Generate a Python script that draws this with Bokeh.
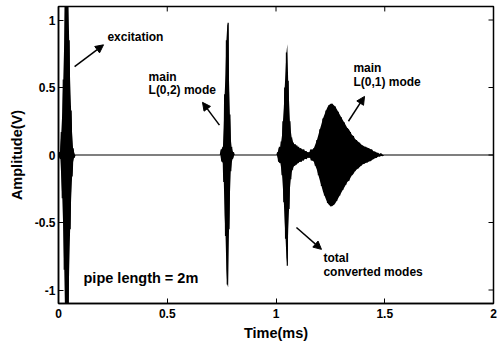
import numpy as np
from bokeh.plotting import figure
from bokeh.models import (Label, Arrow, NormalHead, Range1d,
                          FixedTicker, NumeralTickFormatter)
from bokeh.embed import file_html
from bokeh.resources import INLINE

# ---------------- data ----------------
# Each wave packet: start time (ms), sample step (ms), signed peak values (V)
exc_t0, exc_dt = 0.004, 0.0045
exc_amp = [0.02, -0.03, 0.17, -0.32, 0.56, -0.85, 1.25, -1.25, 1.25, -1.25,
           0.85, -0.55, 0.33, -0.16, 0.05, -0.02]

l02_t0, l02_dt = 0.748, 0.004
l02_amp = [0.04, -0.05, 0.06, -0.20, 0.45, -0.60, 0.85, -0.96, 0.98, -0.55,
           0.30, -0.12, 0.06, -0.03, 0.02]

conv_t0, conv_dt = 1.008, 0.004
conv_amp = [0.02, -0.05, 0.06, -0.06, 0.10, -0.15, 0.25, -0.35, 0.50, -0.62,
            0.76, -0.82, 0.55, -0.40, 0.25, -0.18, 0.13, -0.11, 0.09, -0.08,
            0.08, -0.07, 0.07, -0.06, 0.06, -0.05, 0.05, -0.05, 0.04, -0.04,
            0.04, -0.03, 0.03, -0.03, 0.02, -0.02, 0.02, -0.02]

l01_t0, l01_dt = 1.160, 0.007
l01_amp = [0.04, -0.04, 0.05, -0.08, 0.11, -0.15, 0.19, -0.23, 0.27, -0.30,
           0.33, -0.355, 0.37, -0.38, 0.38, -0.37, 0.36, -0.34, 0.32, -0.30,
           0.28, -0.26, 0.24, -0.22, 0.20, -0.19, 0.17, -0.15, 0.14, -0.12,
           0.11, -0.10, 0.09, -0.08, 0.07, -0.065, 0.06, -0.055, 0.05, -0.045,
           0.04, -0.03, 0.025, -0.02, 0.015, -0.01, 0.01, -0.005]

time_start, time_end = 0.0, 2.0

x_ticks = [0, 0.5, 1, 1.5, 2]
y_ticks = [-1, -0.5, 0, 0.5, 1]


def packet(t0, dt, amps):
    t = t0 + dt * np.arange(len(amps))
    return list(t), list(amps)


t_all, v_all = [time_start], [0.0]
for t0, dt, amps in [(exc_t0, exc_dt, exc_amp), (l02_t0, l02_dt, l02_amp),
                     (conv_t0, conv_dt, conv_amp), (l01_t0, l01_dt, l01_amp)]:
    t, v = packet(t0, dt, amps)
    t_all += [t[0] - dt] + t + [t[-1] + dt]
    v_all += [0.0] + v + [0.0]
t_all.append(time_end)
v_all.append(0.0)
env = np.abs(np.array(v_all))

# ---------------- figure ----------------
FONT = "Liberation Sans"
X0, X1, Y0, Y1 = 0, 2, -1.1, 1.1
FW, FH = 435, 299
p = figure(width=497, height=343, x_range=Range1d(X0, X1), y_range=Range1d(Y0, Y1),
           output_backend="svg", toolbar_location=None,
           min_border_left=58, min_border_right=4, min_border_top=6,
           min_border_bottom=38)
p.grid.visible = False
p.outline_line_color = "black"
p.outline_line_width = 1.5
p.background_fill_color = "white"
p.border_fill_color = "white"

# dense oscillation appears as a filled band between the envelopes
p.varea(x=t_all, y1=-env, y2=env, fill_color="black")
p.line(t_all, v_all, line_color="black", line_width=1.2)


def style_axis(ax, ticks):
    ax.ticker = FixedTicker(ticks=ticks)
    ax.major_tick_in = 5
    ax.major_tick_out = 0
    ax.minor_tick_line_color = None
    ax.axis_line_color = "black"
    ax.axis_line_width = 1.5
    ax.major_tick_line_color = "black"
    ax.major_tick_line_width = 1
    ax.formatter = NumeralTickFormatter(format="0.[0]")
    ax.major_label_text_font = FONT
    ax.major_label_text_font_style = "bold"
    ax.major_label_text_font_size = "12px"
    ax.major_label_text_color = "black"
    ax.axis_label_text_font = FONT
    ax.axis_label_text_font_style = "bold"
    ax.axis_label_text_font_size = "14.5px"
    ax.axis_label_text_color = "black"


style_axis(p.xaxis[0], x_ticks)
style_axis(p.yaxis[0], y_ticks)
p.xaxis[0].axis_label = "Time(ms)"
p.xaxis[0].major_label_standoff = 5
p.xaxis[0].axis_label_standoff = 4
p.yaxis[0].axis_label = "Amplitude(V)"
p.yaxis[0].major_label_standoff = 3
p.yaxis[0].axis_label_standoff = 7

# inward ticks on the top and right edges of the box
tick_len = 5
dy = tick_len * (Y1 - Y0) / FH
dx = tick_len * (X1 - X0) / FW
p.segment(x0=x_ticks, x1=x_ticks, y0=[Y1] * len(x_ticks), y1=[Y1 - dy] * len(x_ticks),
          line_color="black", line_width=1)
p.segment(x0=[X1] * len(y_ticks), x1=[X1 - dx] * len(y_ticks), y0=y_ticks, y1=y_ticks,
          line_color="black", line_width=1)

# ---------------- annotations ----------------
def lab(x, y, text, size="12px"):
    p.add_layout(Label(x=x, y=y, text=text, text_font=FONT, text_font_style="bold",
                       text_font_size=size, text_color="black",
                       text_baseline="middle", text_align="left"))


def arrow(x0, y0, x1, y1):
    p.add_layout(Arrow(end=NormalHead(size=8, fill_color="black", line_color="black"),
                       x_start=x0, y_start=y0, x_end=x1, y_end=y1,
                       line_color="black", line_width=1.5))


lab(0.225, 0.875, "excitation")
arrow(0.074, 0.654, 0.207, 0.816)

lab(0.414, 0.581, "main")
lab(0.414, 0.478, "L(0,2) mode")
arrow(0.740, 0.221, 0.662, 0.390)

lab(1.356, 0.647, "main")
lab(1.356, 0.544, "L(0,1) mode")
arrow(1.333, 0.250, 1.407, 0.434)

lab(1.218, -0.765, "total")
lab(1.218, -0.868, "converted modes")
arrow(1.094, -0.537, 1.209, -0.699)

lab(0.115, -0.912, "pipe length = 2m", size="14.5px")

open("out.html", "w").write(file_html(p, INLINE))
